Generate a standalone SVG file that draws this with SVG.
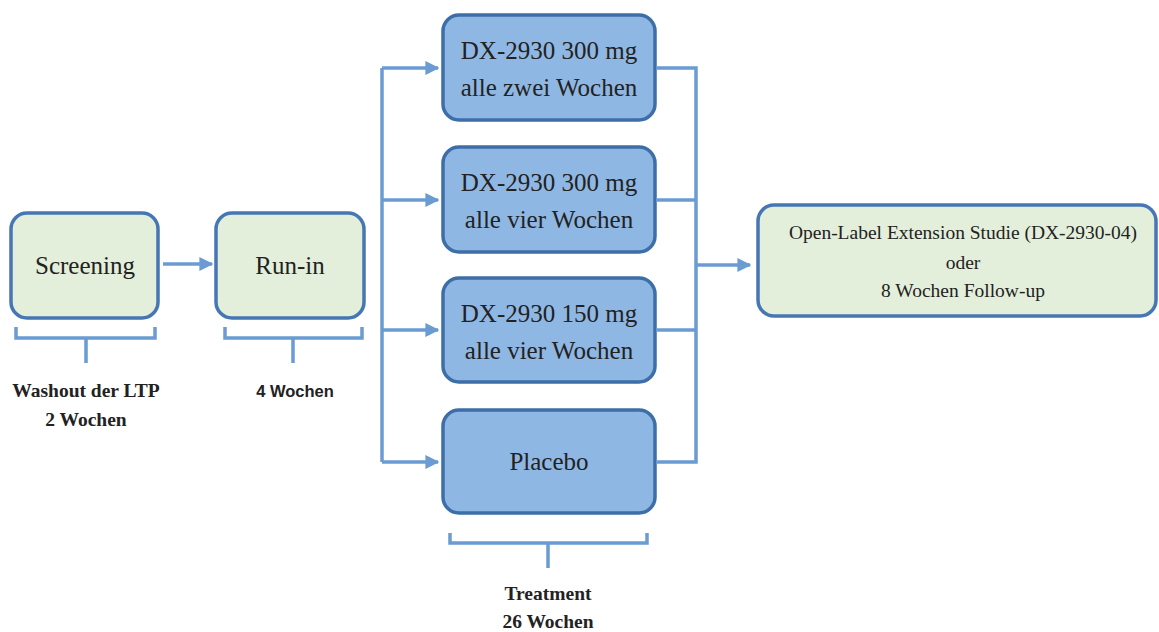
<svg xmlns="http://www.w3.org/2000/svg" width="1159" height="632" viewBox="0 0 1159 632">
<defs>
<marker id="ah" viewBox="0 0 10 10" refX="9" refY="5" markerWidth="4" markerHeight="4" orient="auto" markerUnits="strokeWidth">
<path d="M0,0 L10,5 L0,10 z" fill="#6a9bd2"/>
</marker>
<style>
.g{fill:#e3efda;stroke:#4677b4;stroke-width:3.5}
.b{fill:#8fb7e3;stroke:#3e6ea8;stroke-width:3.5}
.c{fill:none;stroke:#6a9bd2;stroke-width:3.5}
.br{fill:none;stroke:#6a9bd2;stroke-width:3.5}
.t{font-family:"Liberation Serif",serif;fill:#222;text-anchor:middle}
.lb{font-family:"Liberation Serif",serif;font-weight:bold;fill:#222;text-anchor:middle;font-size:19.5px}
.ls{font-family:"Liberation Sans",sans-serif;font-weight:bold;fill:#222;text-anchor:middle;font-size:16.5px}
</style>
</defs>
<rect width="1159" height="632" fill="#fff"/>
<g id="screening"><rect class="g" x="11" y="213" width="147" height="105" rx="16"/><text class="t" x="85" y="274" font-size="25">Screening</text></g>
<g id="runin"><rect class="g" x="216" y="213" width="148" height="105" rx="16"/><text class="t" x="290" y="274" font-size="25">Run-in</text></g>
<g id="arm1"><rect class="b" x="443" y="15" width="212" height="105" rx="16"/><text class="t" x="549" y="59" font-size="25">DX-2930 300 mg</text><text class="t" x="549" y="96" font-size="25">alle zwei Wochen</text></g>
<g id="arm2"><rect class="b" x="443" y="147" width="212" height="105" rx="16"/><text class="t" x="549" y="191" font-size="25">DX-2930 300 mg</text><text class="t" x="549" y="228" font-size="25">alle vier Wochen</text></g>
<g id="arm3"><rect class="b" x="443" y="278" width="212" height="104" rx="16"/><text class="t" x="549" y="322" font-size="25">DX-2930 150 mg</text><text class="t" x="549" y="359" font-size="25">alle vier Wochen</text></g>
<g id="placebo"><rect class="b" x="443" y="410" width="212" height="103" rx="16"/><text class="t" x="549" y="470" font-size="25">Placebo</text></g>
<g id="ole"><rect class="g" x="758" y="205" width="398" height="111" rx="16"/><text class="t" x="963" y="239" font-size="19.5">Open-Label Extension Studie (DX-2930-04)</text><text class="t" x="963" y="269" font-size="19.5">oder</text><text class="t" x="963" y="297" font-size="19.5">8 Wochen Follow-up</text></g>
<g id="connectors">
<path class="c" d="M163,264 H212" marker-end="url(#ah)"/>
<path class="c" d="M382,68 V462"/>
<path class="c" d="M382,68 H438" marker-end="url(#ah)"/>
<path class="c" d="M382,200 H438" marker-end="url(#ah)"/>
<path class="c" d="M382,330 H438" marker-end="url(#ah)"/>
<path class="c" d="M382,462 H438" marker-end="url(#ah)"/>
<path class="c" d="M656,68 H696 V462 H656"/>
<path class="c" d="M656,200 H696"/>
<path class="c" d="M656,330 H696"/>
<path class="c" d="M696,265 H750" marker-end="url(#ah)"/>
</g>
<g id="bracket-screening"><path class="br" d="M16,327 V338 H155 V327 M86,338 V363"/><text class="lb" x="86" y="397">Washout der LTP</text><text class="lb" x="86" y="426">2 Wochen</text></g>
<g id="bracket-runin"><path class="br" d="M225,327 V338 H362 V327 M293,338 V363"/><text class="ls" x="295" y="397">4 Wochen</text></g>
<g id="bracket-treatment"><path class="br" d="M450,533 V543 H647 V533 M548,543 V568"/><text class="lb" x="548" y="600">Treatment</text><text class="lb" x="548" y="628">26 Wochen</text></g>
</svg>
